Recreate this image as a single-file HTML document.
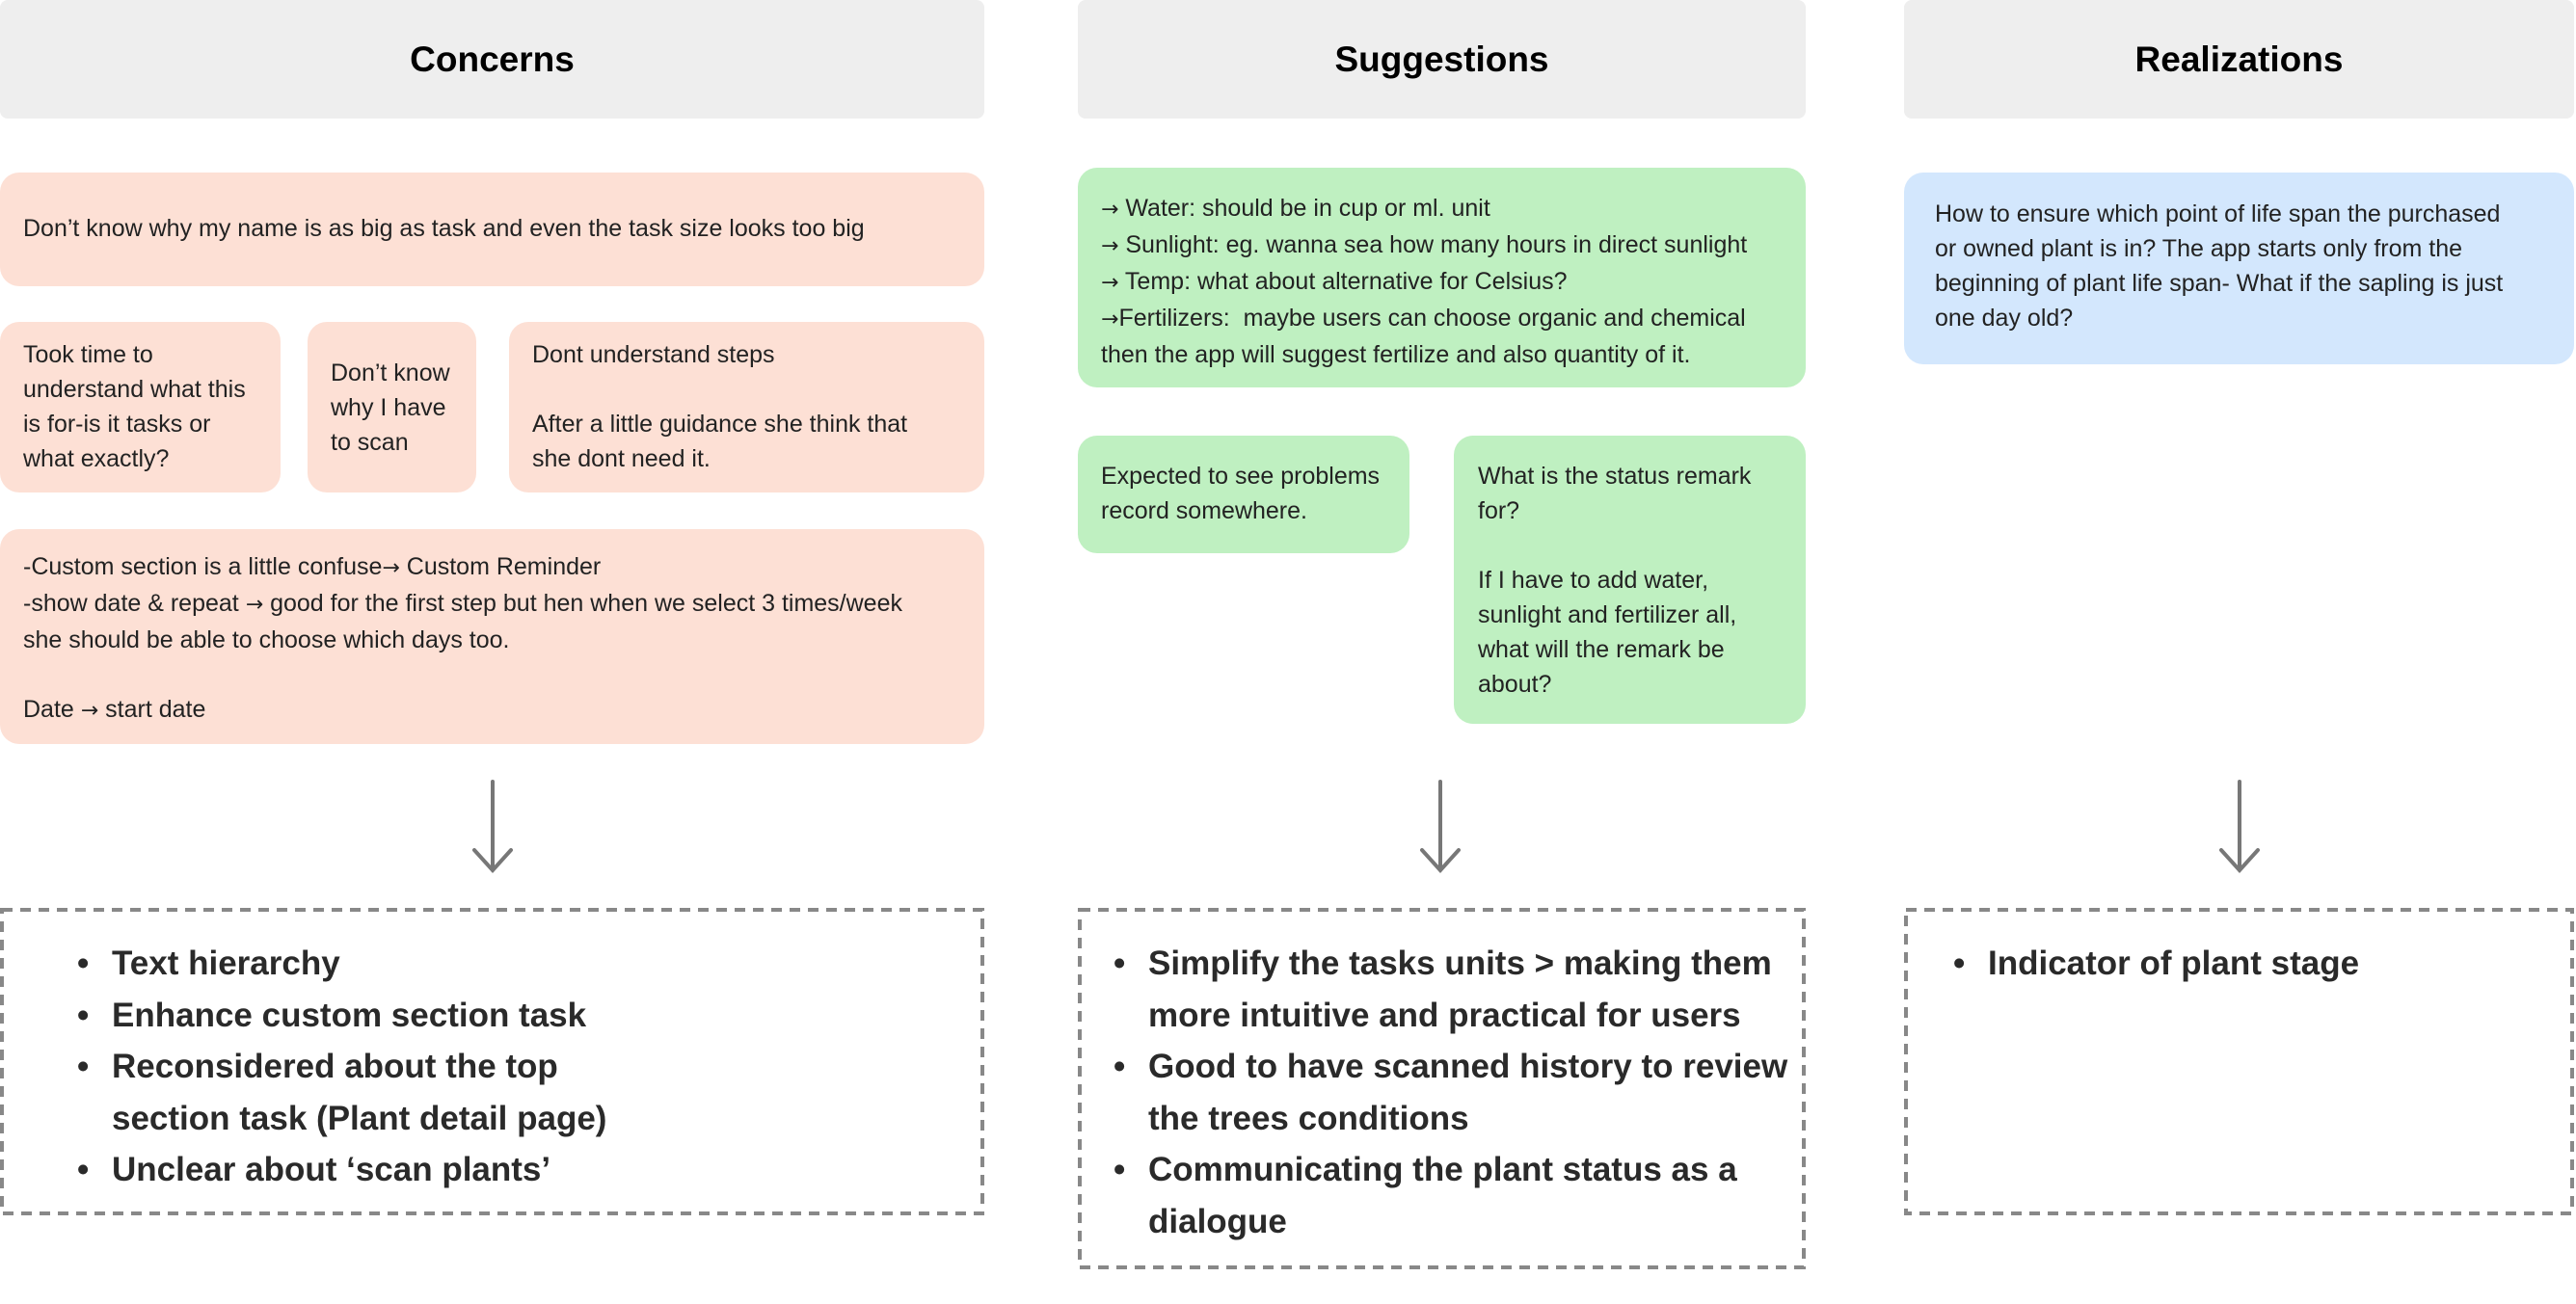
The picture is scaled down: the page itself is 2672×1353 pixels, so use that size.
<!DOCTYPE html>
<html><head><meta charset="utf-8"><style>
*{margin:0;padding:0;box-sizing:border-box}
body{width:2672px;height:1353px;background:#fff;position:relative;overflow:hidden;font-family:"Liberation Sans",sans-serif;color:#1f1f1f}
.b{position:absolute;border-radius:20px}
.h{background:#eeeeee;border-radius:8px;font-weight:bold;font-size:37px;color:#000;display:flex;align-items:center;justify-content:center}
.p{background:#fde0d5}.g{background:#bff0c1}.u{background:#d3e7fd}
.t{position:absolute;font-size:25px;line-height:36px;white-space:nowrap;color:#222}
.a{font-family:"DejaVu Sans",sans-serif;font-size:22px}
.l{position:absolute;font-size:35px;font-weight:bold;line-height:53.5px;white-space:nowrap;color:#2a2a2a}
.l span{position:absolute;left:-36px}
</style></head><body>
<div class="b h" style="left:0;top:0;width:1021px;height:123px">Concerns</div>
<div class="b h" style="left:1118px;top:0;width:755px;height:123px">Suggestions</div>
<div class="b h" style="left:1975px;top:0;width:695px;height:123px">Realizations</div>

<div class="b p" style="left:0;top:179px;width:1021px;height:118px"></div>
<div class="t" style="left:24px;top:219px">Don’t know why my name is as big as task and even the task size looks too big</div>
<div class="b p" style="left:0;top:334px;width:291px;height:177px"></div>
<div class="t" style="left:24px;top:350px">Took time to<br>understand what this<br>is for-is it tasks or<br>what exactly?</div>
<div class="b p" style="left:319px;top:334px;width:175px;height:177px"></div>
<div class="t" style="left:343px;top:369px">Don’t know<br>why I have<br>to scan</div>
<div class="b p" style="left:528px;top:334px;width:493px;height:177px"></div>
<div class="t" style="left:552px;top:350px">Dont understand steps<br><br>After a little guidance she think that<br>she dont need it.</div>
<div class="b p" style="left:0;top:549px;width:1021px;height:223px"></div>
<div class="t" style="left:24px;top:570px">-Custom section is a little confuse<span class="a">→</span> Custom Reminder<br>-show date &amp; repeat <span class="a">→</span> good for the first step but hen when we select 3 times/week<br>she should be able to choose which days too.<br><br>Date <span class="a">→</span> start date</div>

<div class="b g" style="left:1118px;top:174px;width:755px;height:228px"></div>
<div class="t" style="left:1142px;top:198px"><span class="a">→</span> Water: should be in cup or ml. unit<br><span class="a">→</span> Sunlight: eg. wanna sea how many hours in direct sunlight<br><span class="a">→</span> Temp: what about alternative for Celsius?<br><span class="a">→</span>Fertilizers:&nbsp; maybe users can choose organic and chemical<br>then the app will suggest fertilize and also quantity of it.</div>
<div class="b g" style="left:1118px;top:452px;width:344px;height:122px"></div>
<div class="t" style="left:1142px;top:476px">Expected to see problems<br>record somewhere.</div>
<div class="b g" style="left:1508px;top:452px;width:365px;height:299px"></div>
<div class="t" style="left:1533px;top:476px">What is the status remark<br>for?<br><br>If I have to add water,<br>sunlight and fertilizer all,<br>what will the remark be<br>about?</div>

<div class="b u" style="left:1975px;top:179px;width:695px;height:199px"></div>
<div class="t" style="left:2007px;top:204px">How to ensure which point of life span the purchased<br>or owned plant is in? The app starts only from the<br>beginning of plant life span- What if the sapling is just<br>one day old?</div>

<svg style="position:absolute;left:0;top:0" width="2672" height="1353">
<g stroke="#777" stroke-width="4" fill="none" stroke-linecap="round">
<path d="M511 811V903M492 882L511 903L530 882"/>
<path d="M1494 811V903M1475 882L1494 903L1513 882"/>
<path d="M2323 811V903M2304 882L2323 903L2342 882"/>
</g>
<g stroke="#888" stroke-width="4" fill="none" stroke-dasharray="11 8">
<rect x="2" y="944" width="1017" height="315"/>
<rect x="1120" y="944" width="751" height="371"/>
<rect x="1977" y="944" width="691" height="315"/>
</g></svg>

<div class="l" style="left:116px;top:973px"><span>•</span>Text hierarchy<br><span>•</span>Enhance custom section task<br><span>•</span>Reconsidered about the top<br>section task (Plant detail page)<br><span>•</span>Unclear about ‘scan plants’</div>
<div class="l" style="left:1191px;top:973px"><span>•</span>Simplify the tasks units &gt; making them<br>more intuitive and practical for users<br><span>•</span>Good to have scanned history to review<br>the trees conditions<br><span>•</span>Communicating the plant status as a<br>dialogue</div>
<div class="l" style="left:2062px;top:973px"><span>•</span>Indicator of plant stage</div>
</body></html>
